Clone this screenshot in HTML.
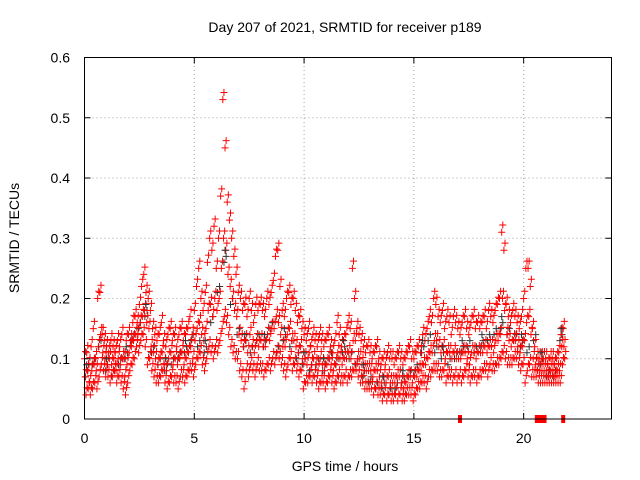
<!DOCTYPE html>
<html><head><meta charset="utf-8"><style>
body{margin:0;background:#fff}
svg{display:block;font-family:"Liberation Sans",sans-serif}
</style></head><body>
<svg id="chart" width="640" height="480" viewBox="0 0 640 480" xmlns="http://www.w3.org/2000/svg">
<rect width="640" height="480" fill="#fff"/>
<text x="345" y="32" font-size="14" text-anchor="middle">Day 207 of 2021, SRMTID for receiver p189</text>
<text x="345" y="471" font-size="14" text-anchor="middle">GPS time / hours</text>
<text transform="translate(19,238) rotate(-90)" font-size="14" text-anchor="middle">SRMTID / TECUs</text>
<g id="grid"></g>
<g id="marks"></g>
<rect x="84.5" y="57.5" width="527" height="361.5" fill="none" stroke="#000" stroke-width="1"/>
<g id="ticks"></g>
</svg>
<script>
const xTicks=[0,5,10,15,20];
const yTicks=[0,0.1,0.2,0.3,0.4,0.5,0.6];
const yTickLabels=["0","0.1","0.2","0.3","0.4","0.5","0.6"];
const sampleStep=0.1;
const redHi=[.10,.11,.09,.12,.15,.10,.20,.21,.14,.13,.12,.11,.13,.12,.11,.13,.12,.14,.10,.13,.14,.13,.16,.17,.16,.19,.22,.24,.21,.20,.18,.15,.14,.13,.14,.16,.13,.12,.14,.15,.13,.14,.12,.14,.15,.13,.14,.15,.17,.14,.18,.22,.25,.20,.18,.21,.26,.30,.28,.32,.25,.30,.37,.53,.45,.36,.33,.30,.27,.24,.21,.20,.18,.19,.17,.20,.18,.16,.19,.18,.19,.18,.17,.20,.19,.21,.23,.27,.28,.22,.18,.17,.20,.21,.19,.20,.18,.16,.17,.15,.14,.13,.15,.12,.14,.13,.12,.14,.13,.12,.13,.14,.12,.11,.13,.16,.14,.12,.13,.14,.16,.15,.25,.20,.15,.14,.13,.12,.11,.12,.11,.10,.11,.12,.10,.09,.10,.09,.11,.10,.10,.09,.10,.11,.10,.09,.10,.11,.12,.10,.10,.11,.12,.11,.14,.13,.15,.17,.16,.20,.19,.17,.16,.18,.15,.17,.16,.14,.17,.16,.15,.14,.16,.17,.15,.14,.16,.17,.15,.16,.15,.16,.17,.15,.18,.17,.16,.18,.19,.20,.31,.28,.19,.17,.16,.18,.17,.16,.15,.17,.20,.25,.25,.22,.15,.12,.10,.10,.10,.10,.10,.09,.10,.10,.09,.10,.11,.14,.15];
const redMid=[.07,.08,.06,.08,.09,.08,.12,.14,.11,.10,.09,.10,.09,.10,.08,.10,.09,.10,.07,.09,.11,.12,.13,.14,.14,.16,.17,.18,.16,.15,.12,.11,.10,.09,.10,.11,.09,.08,.10,.11,.09,.10,.09,.10,.11,.09,.10,.11,.12,.10,.13,.15,.16,.14,.13,.15,.18,.19,.17,.20,.18,.20,.25,.30,.28,.24,.22,.20,.18,.17,.14,.13,.12,.13,.11,.14,.12,.11,.13,.12,.13,.12,.12,.14,.13,.15,.15,.17,.16,.14,.12,.12,.14,.15,.13,.13,.12,.11,.12,.10,.10,.09,.11,.09,.10,.09,.08,.10,.09,.08,.09,.10,.09,.08,.09,.11,.10,.09,.10,.10,.11,.10,.13,.13,.10,.10,.09,.08,.08,.08,.08,.07,.08,.08,.07,.06,.07,.06,.07,.06,.06,.06,.07,.07,.06,.05,.06,.07,.07,.06,.07,.07,.08,.08,.09,.09,.10,.11,.11,.13,.13,.12,.11,.12,.10,.11,.11,.10,.11,.10,.10,.10,.11,.11,.10,.09,.11,.11,.10,.11,.11,.11,.12,.11,.12,.12,.11,.13,.13,.14,.20,.18,.14,.13,.12,.13,.13,.12,.11,.12,.13,.16,.17,.14,.10,.09,.08,.08,.08,.08,.08,.07,.08,.08,.07,.08,.08,.12,.12];
const redLo=[.04,.05,.04,.05,.06,.05,.07,.09,.08,.07,.07,.06,.07,.08,.06,.07,.06,.05,.04,.06,.08,.09,.10,.12,.11,.13,.14,.12,.09,.10,.08,.07,.06,.06,.07,.08,.06,.05,.06,.07,.06,.06,.05,.07,.07,.06,.07,.08,.08,.07,.09,.10,.11,.09,.08,.10,.12,.11,.10,.12,.11,.13,.15,.17,.16,.14,.12,.11,.10,.10,.08,.07,.05,.08,.07,.09,.08,.07,.09,.08,.08,.07,.08,.09,.08,.10,.09,.11,.10,.09,.08,.07,.09,.10,.08,.09,.08,.07,.08,.05,.06,.06,.07,.06,.07,.06,.05,.06,.06,.05,.06,.07,.06,.05,.06,.07,.06,.06,.07,.06,.07,.07,.08,.08,.07,.06,.06,.05,.05,.05,.05,.04,.05,.04,.04,.03,.04,.03,.04,.03,.03,.04,.03,.04,.03,.03,.04,.04,.04,.03,.04,.05,.05,.06,.06,.05,.07,.07,.08,.08,.08,.07,.07,.08,.06,.07,.07,.06,.07,.06,.07,.06,.07,.08,.07,.06,.07,.07,.06,.07,.07,.08,.08,.07,.09,.08,.08,.09,.09,.10,.11,.10,.09,.09,.09,.10,.10,.09,.08,.09,.06,.08,.09,.07,.07,.07,.06,.06,.06,.06,.06,.06,.06,.06,.06,.06,.06,.09,.10];
const blackStep=0.3;
const blackVals=[.08,.10,.13,.09,.08,.10,.11,.14,.16,.18,.12,.10,.09,.10,.11,.12,.14,.13,.12,.17,.22,.27,.20,.15,.13,.12,.14,.13,.16,.12,.14,.13,.11,.10,.09,.10,.09,.11,.10,.12,.11,.10,.08,.07,.06,.06,.05,.06,.07,.08,.09,.12,.14,.12,.11,.10,.11,.12,.13,.12,.13,.14,.15,.16,.15,.14,.13,.12,.14,.10,.08,.08,.14];
const zeroTimes=[17.1,20.6,20.65,20.7,20.75,20.8,20.85,20.9,20.95,21.8];

const X0=84.5,X1=611.5,Y0=419,Y1=57.5;
const xs=v=>X0+(v/24)*(X1-X0);
const ys=v=>Y0-(v/0.6)*(Y0-Y1);
const NS="http://www.w3.org/2000/svg";
function mk(tag,attrs,parent){const e=document.createElementNS(NS,tag);for(const k in attrs)e.setAttribute(k,attrs[k]);parent.appendChild(e);return e;}
const grid=document.getElementById('grid'),ticks=document.getElementById('ticks'),marks=document.getElementById('marks');
xTicks.forEach(t=>{const x=xs(t);
 if(t>0){const g=mk('line',{x1:x,x2:x,y1:Y0,y2:Y1,stroke:'#a0a0a0','stroke-dasharray':'1,3'},grid);
 
 }
 mk('line',{x1:x,x2:x,y1:Y0,y2:Y0-6,stroke:'#000'},ticks);
 mk('line',{x1:x,x2:x,y1:Y1,y2:Y1+6,stroke:'#000'},ticks);
 const l=mk('text',{x:x,y:443,'font-size':14,'text-anchor':'middle'},ticks);l.textContent=t;
 
 });
yTicks.forEach((t,i)=>{const y=ys(t);
 if(t>0&&t<0.6){const g=mk('line',{x1:X0,x2:X1,y1:y,y2:y,stroke:'#a0a0a0','stroke-dasharray':'1,3'},grid);
 
 }
 mk('line',{x1:X0,x2:X0+6,y1:y,y2:y,stroke:'#000'},ticks);
 mk('line',{x1:X1,x2:X1-6,y1:y,y2:y,stroke:'#000'},ticks);
 const l=mk('text',{x:70,y:y+5,'font-size':14,'text-anchor':'end'},ticks);l.textContent=yTickLabels[i];
 
 });
function plus(t,v,col,name){const x=xs(t),y=ys(v);
 const p=mk('path',{d:`M${x-3.5},${y}H${x+3.5}M${x},${y-3.5}V${y+3.5}`,stroke:col,'stroke-width':1,fill:'none'},marks);
 
 }
blackVals.forEach((v,i)=>{plus(i*blackStep+0.15,v,'#333','point-black');plus(i*blackStep+0.05,v-0.01,'#333','point-black');});
[redHi,redMid,redLo].forEach((arr,k)=>arr.forEach((v,i)=>{
 plus(i*sampleStep+k*0.033,v,'#f00','point-red');
 plus(i*sampleStep+k*0.033+0.05,v+0.012,'#f00','point-red');
}));
blackVals.forEach((v,i)=>{if(i%3===0)plus(i*blackStep+0.1,v+0.01,'#333','point-black');});
zeroTimes.forEach(t=>{const x=xs(t);
 const r=mk('rect',{x:x-2,y:Y0-4,width:4,height:8,fill:'#f00'},marks);
 
 });
</script>
</body></html>
